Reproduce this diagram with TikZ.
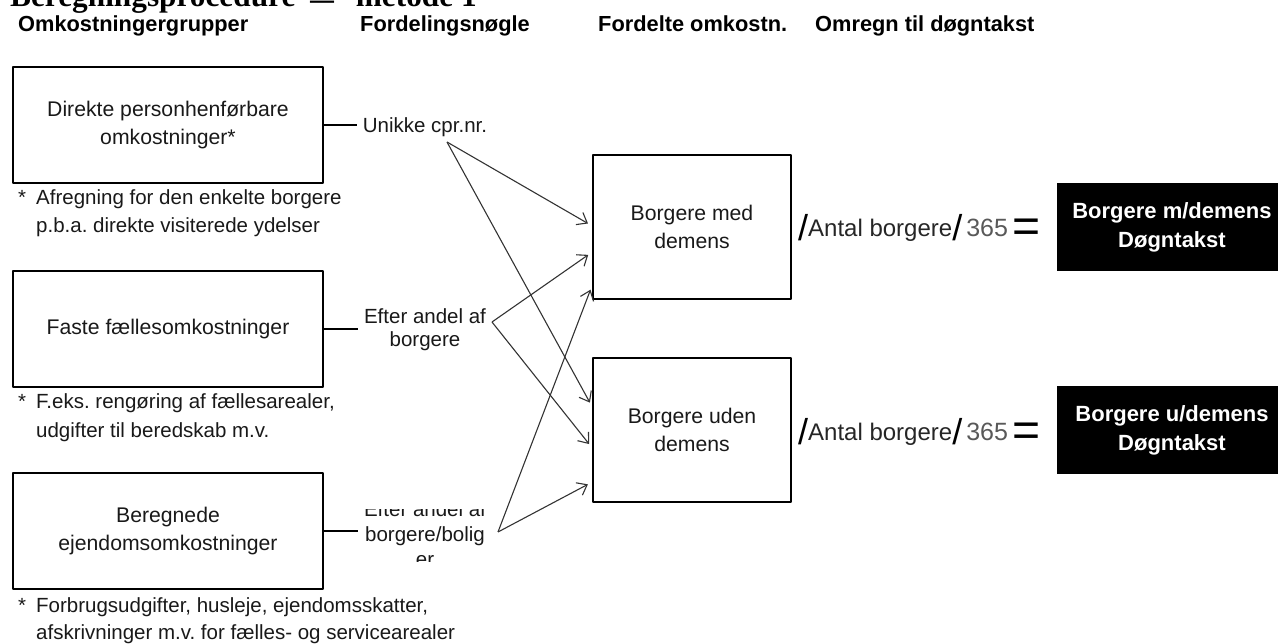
\documentclass[tikz,border=0pt]{standalone}
\usepackage{fontspec}
\setmainfont{Liberation Sans}
\newfontfamily\titlefont{Liberation Serif}
\usetikzlibrary{arrows.meta}
\frenchspacing
\newcommand\txtfont{\fontsize{20.5}{28}\selectfont}
\newcommand\boxfont{\fontsize{21.2}{28}\selectfont}
\newcommand\hdfont{\fontsize{21.8}{26}\selectfont\bfseries}
\newcommand\bigsl{\raisebox{-4pt}{\fontsize{36}{36}\selectfont\color{black}/}}

\begin{document}
\begin{tikzpicture}[x=1pt,y=-1pt,line join=round, % pixel grid, y downwards
  hd/.style={anchor=base west,inner sep=0pt,font=\hdfont},
  grp/.style={draw=black,line width=1.4pt,minimum width=310pt,minimum height=116pt,inner sep=0pt,align=center,font=\boxfont,text=black!90},
  fn/.style={anchor=base west,inner sep=0pt,font=\txtfont,text=black!90},
  lab/.style={inner xsep=6pt,inner ysep=0pt,align=center,text=black!90},
  stub/.style={line width=2.6pt},
  arr/.style={draw=black!80,line width=1.1pt,-{Straight Barb[length=9pt,width=14pt]},shorten >=5pt},
  brg/.style={draw=black,line width=1.4pt,minimum width=198pt,minimum height=144pt,inner sep=0pt,align=center,font=\boxfont,text=black!90},
  frm/.style={anchor=base west,inner sep=0pt,font=\fontsize{24}{24}\selectfont,text=black!85},
  res/.style={fill=black,text=white,minimum width=230pt,minimum height=88pt,inner sep=0pt,align=center,font=\fontsize{22}{29}\selectfont\bfseries}]
\useasboundingbox (0,0) rectangle (1278,644);

\node[anchor=base west,inner sep=0pt,font=\titlefont\fontsize{31.3}{31.3}\selectfont\bfseries] (title) at (10,7) {Beregningsprocedure\hspace{15pt}\raisebox{-3pt}{\scalebox{1.5}[1]{–}}\hspace{22pt}metode 1};

\node[hd] (h1) at (18,32) {Omkostningergrupper};
\node[hd] (h2) at (360,32) {Fordelingsnøgle};
\node[hd] (h3) at (598,32) {Fordelte omkostn.};
\node[hd] (h4) at (815,32) {Omregn til døgntakst};

\node[grp] (dir) at (168,125) {Direkte personhenførbare\\omkostninger*};
\node[grp] (fast) at (168,329) {Faste fællesomkostninger};
\node[grp] (ejd) at (168,531) {Beregnede\\ejendomsomkostninger};

\node[fn] (s1) at (18,205) {*};
\node[fn] (n1a) at (36,205) {Afregning for den enkelte borgere};
\node[fn] (n1b) at (36,233) {p.b.a. direkte visiterede ydelser};
\node[fn] (s2) at (18,409) {*};
\node[fn] (n2a) at (36,409) {F.eks. rengøring af fællesarealer,};
\node[fn] (n2b) at (36,437) {udgifter til beredskab m.v.};
\node[fn] (s3) at (18,612) {*};
\node[fn] (n3a) at (36,612) {Forbrugsudgifter, husleje, ejendomsskatter,};
\node[fn] (n3b) at (36,639) {afskrivninger m.v. for fælles- og servicearealer};

\node[lab,font=\txtfont] (cpr) at (425,127) {Unikke cpr.nr.};
\node[lab,font=\fontsize{20.5}{23}\selectfont] (andel) at (425,330) {Efter andel af\\borgere};
\begin{scope}
  \clip (355,509) rectangle (510,561);
  \node[lab,font=\fontsize{20.5}{25}\selectfont] (bolig) at (425,534) {Efter andel af\\borgere/bolig\\er};
\end{scope}

\draw[stub] (dir.east) -- (dir.east -| cpr.west);
\draw[stub] (fast.east) -- (fast.east -| andel.west);
\draw[stub] (ejd.east) -- (ejd.east -| bolig.west);

\node[brg] (med) at (692,227) {Borgere med\\demens};
\node[brg] (uden) at (692,430) {Borgere uden\\demens};

\coordinate (u) at (447,142);
\coordinate (v) at (492,322);
\coordinate (w) at (498,532);
\draw[arr] (u) -- ([yshift=1pt]med.west);
\draw[arr] (u) -- ([yshift=23pt]uden.west);
\draw[arr] (v) -- ([yshift=-25pt]med.west);
\draw[arr] (v) -- ([yshift=-18pt]uden.west);
\draw[arr] (w) -- ([yshift=-58pt]med.west);
\draw[arr] (w) -- ([yshift=-52pt]uden.west);

\node[frm] (q1) at (798,237) {\bigsl Antal borgere\bigsl\,{\fontsize{25}{25}\selectfont\color{black!65}365}\,\raisebox{-6pt}{\fontsize{48}{48}\selectfont\color{black}=}};
\node[frm] (q2) at (798,440) {\bigsl Antal borgere\bigsl\,{\fontsize{25}{25}\selectfont\color{black!65}365}\,\raisebox{-6pt}{\fontsize{48}{48}\selectfont\color{black}=}};

\node[res] (rm) at (1172,227) {Borgere m/demens\\Døgntakst};
\node[res] (ru) at (1172,430) {Borgere u/demens\\Døgntakst};
\end{tikzpicture}
\end{document}
